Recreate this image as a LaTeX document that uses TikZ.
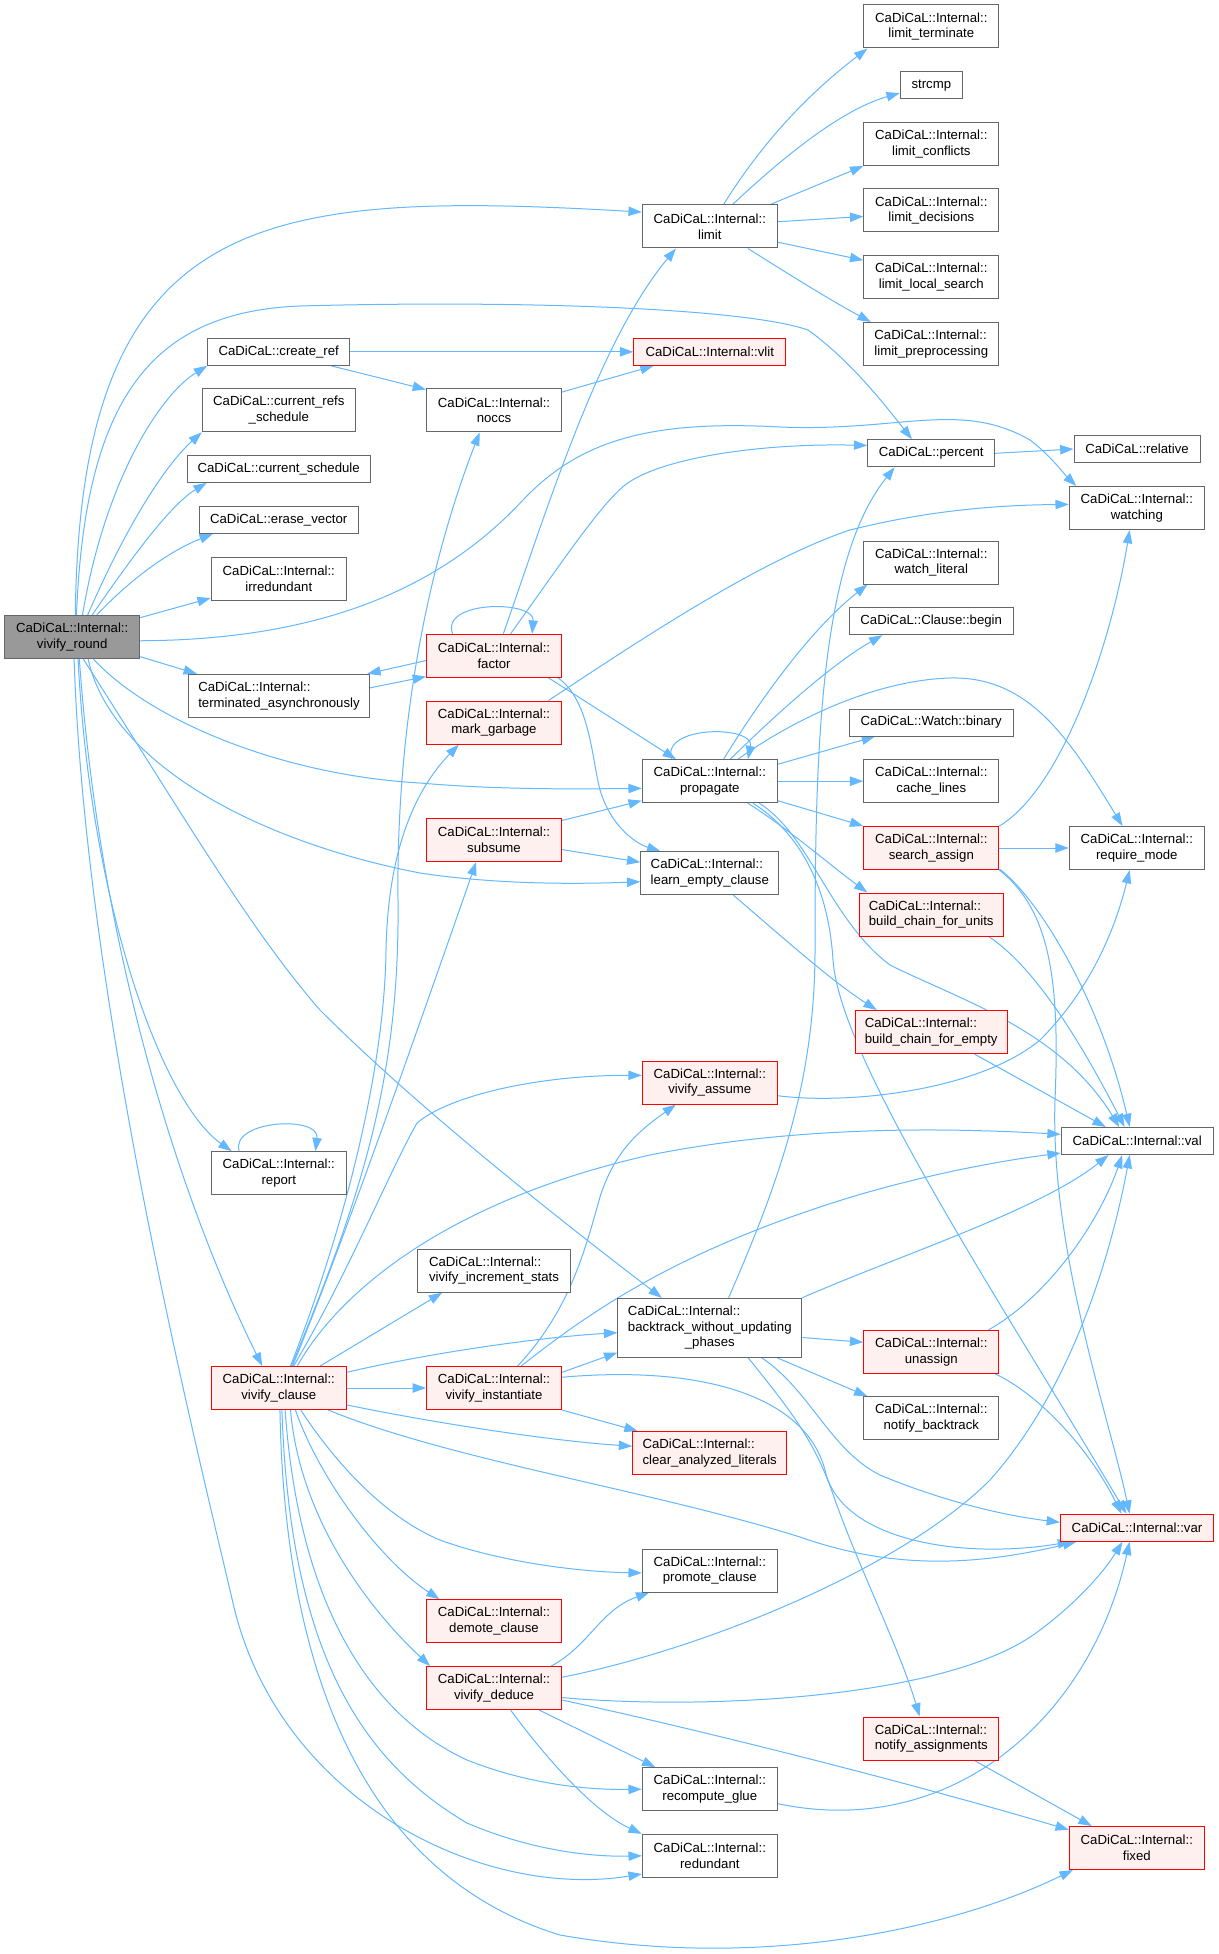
\documentclass[tikz,border=0pt]{standalone}
\usepackage{fontspec}
\setmainfont{Liberation Sans}
\usetikzlibrary{arrows.meta}
\definecolor{ecol}{HTML}{63B8FF}
\definecolor{bord}{HTML}{666666}
\definecolor{rfill}{HTML}{FFF0F0}
\definecolor{rootfill}{HTML}{999999}
\newcommand\dtwo[2]{\setbox0=\hbox{#1}\setbox2=\hbox{#2}%
\ifdim\wd0>\wd2 \dimen0=\wd0 \else\dimen0=\wd2 \fi
\vbox{\baselineskip=11.75pt\lineskiplimit=-20pt\hbox to\dimen0{\box0\hfil}\hbox to\dimen0{\hfil\box2\hfil}}}
\newcommand\dthree[3]{\setbox0=\hbox{#1}\setbox2=\hbox{#2}\setbox4=\hbox{#3}%
\dimen0=\wd0 \ifdim\wd2>\dimen0 \dimen0=\wd2 \fi\ifdim\wd4>\dimen0 \dimen0=\wd4 \fi
\vbox{\baselineskip=11.75pt\lineskiplimit=-20pt\hbox to\dimen0{\box0\hfil}\hbox to\dimen0{\box2\hfil}\hbox to\dimen0{\hfil\box4\hfil}}}
\pgfdeclarelayer{bg}
\pgfsetlayers{bg,main}
\begin{document}
\begin{tikzpicture}[x=0.75pt,y=-0.75pt,
 nd/.style={draw=bord, fill=white, line width=0.75pt, inner sep=0pt,
   font=\fontsize{9.9pt}{11.75pt}\selectfont,
   minimum width=135*0.75pt, minimum height=43*0.75pt},
 rn/.style={nd, draw=red, fill=rfill},
 w/.style={minimum width=#1*0.75pt},
 h27/.style={minimum height=27*0.75pt},
 e/.style={draw=ecol, line width=0.75pt, -{Triangle[length=10pt,width=7pt]}, fill=none}]
\useasboundingbox (0,0) rectangle (1219,1954);

% ---------- nodes ----------
\node[nd,fill=rootfill] (vr) at (72.2,637.2) {\dtwo{CaDiCaL::Internal::}{vivify\_round}};
\node[nd,w=142,h27] (cref) at (278.7,351.8) {CaDiCaL::create\_ref};
\node[nd,w=153] (crs) at (278.8,410.3) {\dtwo{CaDiCaL::current\_refs}{\_schedule}};
\node[nd,w=183,h27] (cs) at (278.7,468.8) {CaDiCaL::current\_schedule};
\node[nd,w=159,h27] (ev) at (278.7,519.8) {CaDiCaL::erase\_vector};
\node[nd] (irr) at (278.8,578.5) {\dtwo{CaDiCaL::Internal::}{irredundant}};
\node[nd,w=181] (ta) at (279,695.8) {\dtwo{CaDiCaL::Internal::}{terminated\_asynchronously}};
\node[nd] (rep) at (278.8,1173.2) {\dtwo{CaDiCaL::Internal::}{report}};
\node[rn] (vc) at (278.8,1388) {\dtwo{CaDiCaL::Internal::}{vivify\_clause}};
\node[nd] (limit) at (709.8,226.5) {\dtwo{CaDiCaL::Internal::}{limit}};
\node[rn,w=152,h27] (vlit) at (709.8,351.8) {CaDiCaL::Internal::vlit};
\node[nd] (noccs) at (494,410.3) {\dtwo{CaDiCaL::Internal::}{noccs}};
\node[rn] (factor) at (494,655.8) {\dtwo{CaDiCaL::Internal::}{factor}};
\node[rn] (mg) at (494,722.5) {\dtwo{CaDiCaL::Internal::}{mark\_garbage}};
\node[nd] (prop) at (709.8,781.2) {\dtwo{CaDiCaL::Internal::}{propagate}};
\node[rn] (sub) at (494,840) {\dtwo{CaDiCaL::Internal::}{subsume}};
\node[nd,w=138] (lec) at (709.8,873.2) {\dtwo{CaDiCaL::Internal::}{learn\_empty\_clause}};
\node[rn] (va) at (709.8,1082.5) {\dtwo{CaDiCaL::Internal::}{vivify\_assume}};
\node[nd,w=153] (vis) at (494,1270.7) {\dtwo{CaDiCaL::Internal::}{vivify\_increment\_stats}};
\node[nd,w=184,minimum height=59*0.75pt] (bt) at (709.8,1327.8) {\dthree{CaDiCaL::Internal::}{backtrack\_without\_updating}{\_phases}};
\node[rn] (vi) at (494,1388) {\dtwo{CaDiCaL::Internal::}{vivify\_instantiate}};
\node[rn,w=154] (cal) at (709.7,1453) {\dtwo{CaDiCaL::Internal::}{clear\_analyzed\_literals}};
\node[nd] (pc) at (709.8,1570.5) {\dtwo{CaDiCaL::Internal::}{promote\_clause}};
\node[rn] (dc) at (494,1621.3) {\dtwo{CaDiCaL::Internal::}{demote\_clause}};
\node[rn] (vd) at (494,1688) {\dtwo{CaDiCaL::Internal::}{vivify\_deduce}};
\node[nd] (rg) at (709.8,1789.2) {\dtwo{CaDiCaL::Internal::}{recompute\_glue}};
\node[nd] (rdd) at (709.8,1855.8) {\dtwo{CaDiCaL::Internal::}{redundant}};
\node[nd] (lt) at (931.3,26.5) {\dtwo{CaDiCaL::Internal::}{limit\_terminate}};
\node[nd,w=62,h27] (strcmp) at (931.3,85.2) {strcmp};
\node[nd] (lc) at (931.3,144) {\dtwo{CaDiCaL::Internal::}{limit\_conflicts}};
\node[nd] (ld) at (931.3,210.5) {\dtwo{CaDiCaL::Internal::}{limit\_decisions}};
\node[nd] (lls) at (931.3,277.2) {\dtwo{CaDiCaL::Internal::}{limit\_local\_search}};
\node[nd] (lp) at (931.3,344) {\dtwo{CaDiCaL::Internal::}{limit\_preprocessing}};
\node[nd,w=127,h27] (pct) at (931.2,453.3) {CaDiCaL::percent};
\node[nd,w=126,h27] (rel) at (1137,449) {CaDiCaL::relative};
\node[nd] (wat) at (1136.8,508) {\dtwo{CaDiCaL::Internal::}{watching}};
\node[nd] (wl) at (931.3,562.5) {\dtwo{CaDiCaL::Internal::}{watch\_literal}};
\node[nd,w=164,h27] (cb) at (931.2,621.2) {CaDiCaL::Clause::begin};
\node[nd,w=164,h27] (wb) at (931.2,722.5) {CaDiCaL::Watch::binary};
\node[nd] (cl) at (931.3,781.2) {\dtwo{CaDiCaL::Internal::}{cache\_lines}};
\node[rn] (sa) at (931.3,848) {\dtwo{CaDiCaL::Internal::}{search\_assign}};
\node[nd] (rm) at (1136.8,848) {\dtwo{CaDiCaL::Internal::}{require\_mode}};
\node[rn,w=144] (bcu) at (931.2,914.5) {\dtwo{CaDiCaL::Internal::}{build\_chain\_for\_units}};
\node[rn,w=152] (bce) at (931.2,1032) {\dtwo{CaDiCaL::Internal::}{build\_chain\_for\_empty}};
\node[nd,w=152,h27] (val) at (1137.2,1141) {CaDiCaL::Internal::val};
\node[rn] (una) at (931.3,1351.8) {\dtwo{CaDiCaL::Internal::}{unassign}};
\node[nd] (nb) at (931.3,1418.3) {\dtwo{CaDiCaL::Internal::}{notify\_backtrack}};
\node[rn,w=153,h27] (var) at (1137,1527.7) {CaDiCaL::Internal::var};
\node[rn] (na) at (931.3,1738.5) {\dtwo{CaDiCaL::Internal::}{notify\_assignments}};
\node[rn] (fix) at (1136.8,1848) {\dtwo{CaDiCaL::Internal::}{fixed}};

% ---------- edges ----------
\begin{pgfonlayer}{bg}
\fill[white] (0,0) rectangle (1219,1954);
% vivify_round
\draw[e] (vr.82) .. controls (80,210) and (260,190) .. (limit.168);
\draw[e] (vr.79) .. controls (85,400) and (150,312) .. (300,306) .. controls (520,300) and (745,308) .. (808,330) .. controls (850,360) and (885,405) .. (pct.144);
\draw[e] (vr.65) .. controls (105,480) and (160,395) .. (cref.south west);
\draw[e] (vr.55) .. controls (120,540) and (160,470) .. (crs.south west);
\draw[e] (vr.48) .. controls (130,560) and (170,505) .. (cs.191);
\draw[e] (vr.42) .. controls (120,590) and (160,555) .. (ev.192);
\draw[e] (vr.16) -- (irr.196);
\draw[e] (vr.-3) .. controls (300,640) and (430,600) .. (523,500) .. controls (580,440) and (650,420) .. (780,427) .. controls (900,432) and (960,400) .. (1030,440) .. controls (1050,455) and (1065,475) .. (wat.160);
\draw[e] (vr.-16) -- (ta.165);
\draw[e] (vr.-46) .. controls (150,720) and (280,775) .. (420,783) .. controls (500,790) and (580,789) .. (prop.186);
\draw[e] (vr.-54) .. controls (110,760) and (250,840) .. (420,873) .. controls (500,885) and (580,884) .. (lec.187);
\draw[e] (vr.-63) .. controls (180,810) and (250,930) .. (320,1010) .. controls (420,1110) and (560,1220) .. (bt.148);
\draw[e] (vr.-75) .. controls (90,900) and (160,1100) .. (rep.155);
\draw[e] (vr.-72) .. controls (100,950) and (180,1200) .. (vc.127);
\draw[e] (vr.-85) .. controls (85,1000) and (195,1440) .. (233,1603) .. controls (278,1799) and (480,1900) .. (rdd.195);
% report loop
\draw[e] (rep.151) .. controls (230,1120) and (320,1115) .. (rep.31);
% vivify_clause
\draw[e] (vc.60) .. controls (360,1200) and (400,1080) .. (398,900) .. controls (396,720) and (430,560) .. (noccs.-123);
\draw[e] (vc.62) .. controls (355,1200) and (385,1050) .. (386,950) .. controls (388,850) and (415,790) .. (mg.-148);
\draw[e] (vc.58) .. controls (340,1250) and (400,1080) .. (sub.-129);
\draw[e] (vc.56) .. controls (350,1270) and (390,1170) .. (417,1123) .. controls (450,1095) and (540,1075) .. (va.174);
\draw[e] (vc.50) .. controls (340,1290) and (450,1200) .. (650,1155) .. controls (800,1125) and (950,1128) .. (val.175);
\draw[e] (vc.28) -- (vis.-157);
\draw[e] (vc.13) .. controls (420,1355) and (530,1338) .. (bt.183);
\draw[e] (vc.east) -- (vi.west);
\draw[e] (vc.-14) .. controls (420,1420) and (540,1440) .. (cal.175);
\draw[e] (vc.-24) .. controls (450,1460) and (650,1490) .. (800,1537) .. controls (880,1565) and (960,1570) .. (var.-167);
\draw[e] (vc.-45) .. controls (330,1455) and (380,1515) .. (440,1540) .. controls (500,1562) and (580,1572) .. (pc.182);
\draw[e] (vc.-53) .. controls (320,1480) and (380,1560) .. (dc.158);
\draw[e] (vc.-62) .. controls (300,1520) and (370,1610) .. (vd.161);
\draw[e] (vc.-74) .. controls (300,1620) and (380,1720) .. (467,1760) .. controls (530,1785) and (590,1790) .. (rg.west);
\draw[e] (vc.-82) .. controls (290,1650) and (360,1760) .. (467,1823) .. controls (530,1850) and (590,1857) .. (rdd.west);
\draw[e] (vc.-87) .. controls (285,1700) and (380,1880) .. (560,1935) .. controls (760,1970) and (950,1930) .. (fix.-161);
% vivify_instantiate
\draw[e] (vi.43) .. controls (570,1310) and (585,1250) .. (600,1197) .. controls (615,1150) and (640,1130) .. (va.-147);
\draw[e] (vi.39) .. controls (580,1320) and (660,1260) .. (820,1207) .. controls (900,1180) and (990,1162) .. (val.189);
\draw[e] (vi.13) -- (bt.195);
\draw[e] (vi.south east) -- (cal.163);
\draw[e] (vi.9) .. controls (700,1365) and (805,1395) .. (825,1470) .. controls (840,1540) and (960,1560) .. (var.-168);
% backtrack
\draw[e] (bt.58) .. controls (780,1180) and (815,1080) .. (815,950) .. controls (815,750) and (820,560) .. (pct.-159);
\draw[e] (bt.18) .. controls (900,1255) and (1040,1210) .. (val.-154);
\draw[e] (bt.-6) -- (una.172);
\draw[e] (bt.-24) -- (nb.161);
\draw[e] (bt.-30) .. controls (810,1390) and (830,1450) .. (880,1475) .. controls (940,1500) and (1000,1515) .. (var.176);
\draw[e] (bt.-38) .. controls (790,1410) and (815,1440) .. (835,1500) .. controls (860,1570) and (900,1650) .. (na.118);
% unassign
\draw[e] (una.21) .. controls (1050,1295) and (1100,1220) .. (val.-137);
\draw[e] (una.-19) .. controls (1040,1395) and (1090,1450) .. (var.138);
% vivify_deduce
\draw[e] (vd.21) .. controls (590,1645) and (600,1610) .. (pc.-160);
\draw[e] (vd.9) .. controls (700,1650) and (900,1570) .. (990,1480) .. controls (1070,1390) and (1110,1260) .. (val.-118);
\draw[e] (vd.-8) .. controls (700,1710) and (950,1700) .. (1040,1630) .. controls (1080,1600) and (1105,1570) .. (var.-136);
\draw[e] (vd.-10) .. controls (700,1730) and (900,1780) .. (fix.165);
\draw[e] (vd.-26) -- (rg.158);
\draw[e] (vd.-53) .. controls (540,1750) and (590,1810) .. (rdd.north west);
% recompute_glue, notify_assignments
\draw[e] (rg.-12) .. controls (950,1840) and (1090,1720) .. (var.-118);
\draw[e] (na.-27) -- (fix.154);
% top area
\draw[e] (cref.east) -- (vlit.west);
\draw[e] (cref.-15) -- (noccs.163);
\draw[e] (noccs.15) -- (vlit.-166);
\draw[e] (limit.58) .. controls (770,130) and (820,85) .. (lt.-161);
\draw[e] (limit.44) .. controls (780,160) and (840,110) .. (strcmp.194);
\draw[e] (limit.20) -- (lc.south west);
\draw[e] (limit.4) -- (ld.185);
\draw[e] (limit.-13) -- (lls.166);
\draw[e] (limit.-30) .. controls (790,275) and (830,300) .. (lp.160);
\draw[e] (pct.east) -- (rel.west);
% factor
\draw[e] (factor.152) .. controls (440,600) and (535,600) .. (factor.30);
\draw[e] (factor.67) .. controls (550,500) and (600,340) .. (limit.-147);
\draw[e] (factor.53) .. controls (560,565) and (600,505) .. (625,485) .. controls (660,458) and (760,443) .. (pct.173);
\draw[e] (factor.184) -- (ta.14);
\draw[e] (ta.5) -- (factor.197);
\draw[e] (factor.-22) -- (prop.147);
\draw[e] (factor.-19) .. controls (590,700) and (592,760) .. (600,790) .. controls (612,830) and (640,845) .. (lec.156);
% subsume, mark_garbage
\draw[e] (sub.16) -- (prop.196);
\draw[e] (sub.-8) -- (lec.171);
\draw[e] (mg.22) .. controls (640,640) and (760,560) .. (850,530) .. controls (930,510) and (1000,505) .. (wat.177);
% propagate
\draw[e] (prop.150) .. controls (660,725) and (755,725) .. (prop.30);
\draw[e] (prop.58) .. controls (760,700) and (810,630) .. (wl.-161);
\draw[e] (prop.47) .. controls (770,720) and (830,665) .. (cb.-164);
\draw[e] (prop.38) .. controls (800,715) and (880,680) .. (950,678) .. controls (1030,676) and (1070,740) .. (rm.123);
\draw[e] (prop.14) -- (wb.-166);
\draw[e] (prop.east) -- (cl.west);
\draw[e] (prop.-16) -- (sa.north west);
\draw[e] (prop.-30) .. controls (790,830) and (830,865) .. (bcu.161);
\draw[e] (prop.-27) .. controls (795,830) and (828,880) .. (833,960) .. controls (840,1060) and (1000,1300) .. (var.127);
\draw[e] (prop.-24) .. controls (810,835) and (830,920) .. (890,965) .. controls (960,1000) and (1060,1030) .. (val.142);
% learn_empty_clause
\draw[e] (lec.-43) .. controls (780,935) and (830,980) .. (bce.158);
% search_assign
\draw[e] (sa.north east) .. controls (1060,790) and (1110,650) .. (wat.-108);
\draw[e] (sa.east) -- (rm.west);
\draw[e] (sa.-17) .. controls (1040,900) and (1100,1000) .. (val.118);
\draw[e] (sa.south east) .. controls (1050,910) and (1060,980) .. (1055,1100) .. controls (1050,1250) and (1110,1420) .. (var.118);
% build chains, vivify_assume
\draw[e] (bcu.-21) .. controls (1040,970) and (1090,1060) .. (val.132);
\draw[e] (bce.-27) -- (val.156);
\draw[e] (va.-11) .. controls (850,1105) and (980,1090) .. (1040,1040) .. controls (1090,990) and (1115,930) .. (rm.-108);
\end{pgfonlayer}
\end{tikzpicture}
\end{document}
